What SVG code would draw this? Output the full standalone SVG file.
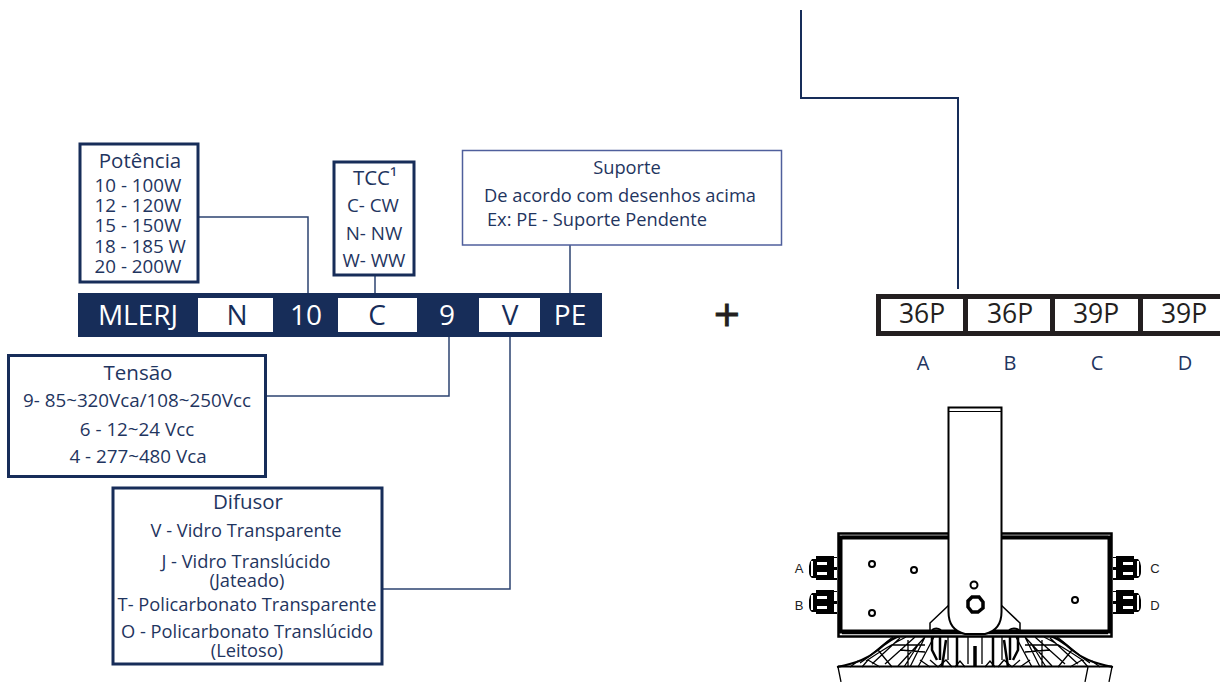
<svg xmlns="http://www.w3.org/2000/svg" width="1220" height="682" viewBox="0 0 1220 682">
<style>
text{font-family:"Open Sans","Noto Sans","Liberation Sans",sans-serif;text-anchor:middle;fill:#1f3560}
.box{fill:#fff;stroke:#172d59;stroke-width:3}
.bar{fill:#172d59}
.cell{fill:#fff}
.w{fill:#fff;font-size:28px}
.d{fill:#172d59;font-size:28px}
.t{font-size:20.500px}
.s{font-size:18.800px}
.n{font-size:18.300px}
.c{fill:none;stroke:#2c4370;stroke-width:1.5}
.k{fill:#231f20;font-size:26.500px}
.l{font-size:20px}
.m{fill:none;stroke:#000;stroke-width:1.3}
.m2{fill:#fff;stroke:#000;stroke-width:2}
.lb{font-family:"Liberation Sans",Arial,sans-serif;font-size:13px;fill:#222}
</style>
<g id="connectors">
<path class="c" d="M199 217H308V293"/>
<path class="c" d="M375 276V293"/>
<path class="c" d="M570 245V293"/>
<path class="c" d="M267 396H449V337"/>
<path class="c" d="M383 589H510V337"/>
<path d="M801 10V98H958V289" fill="none" stroke="#172d59" stroke-width="2"/>
</g>
<g id="code-bar">
<rect class="bar" x="78" y="293" width="524" height="44"/>
<rect class="cell" x="198" y="298" width="75" height="34"/>
<rect class="cell" x="338" y="298" width="79" height="34"/>
<rect class="cell" x="479" y="298" width="61" height="34"/>
<text class="w" x="138" y="325">MLERJ</text>
<text class="d" x="237" y="325">N</text>
<text class="w" x="306" y="325">10</text>
<text class="d" x="377" y="325">C</text>
<text class="w" x="447" y="325">9</text>
<text class="d" x="510" y="325">V</text>
<text class="w" x="570" y="325">PE</text>
</g>
<g id="potencia">
<rect class="box" x="80" y="144" width="118" height="138"/>
<text class="t" x="140" y="168">Potência</text>
<text class="s" x="138" y="192">10 - 100W</text>
<text class="s" x="138" y="212">12 - 120W</text>
<text class="s" x="138" y="232">15 - 150W</text>
<text class="s" x="140" y="253">18 - 185 W</text>
<text class="s" x="138" y="273">20 - 200W</text>
</g>
<g id="tcc">
<rect class="box" x="334" y="162" width="80" height="113"/>
<text class="t" x="375" y="185">TCC¹</text>
<text class="s" x="373" y="212">C- CW</text>
<text class="s" x="374" y="240">N- NW</text>
<text class="s" x="374" y="267">W- WW</text>
</g>
<g id="suporte">
<rect x="462.500" y="150.500" width="319" height="94.500" fill="#fff" stroke="#4f5f9c" stroke-width="1.500"/>
<text class="n" x="627" y="174">Suporte</text>
<text class="n" x="620" y="202">De acordo com desenhos acima</text>
<text class="n" x="597" y="226">Ex: PE - Suporte Pendente</text>
</g>
<g id="plus"><text x="727" y="331" font-size="46" stroke="#231f20" stroke-width="0.800" style="fill:#231f20">+</text></g>
<g id="tensao">
<rect class="box" x="8.500" y="355.500" width="257" height="121"/>
<text class="t" x="138" y="380">Tensão</text>
<text class="s" x="137" y="407">9- 85~320Vca/108~250Vcc</text>
<text class="s" x="137" y="436">6 - 12~24 Vcc</text>
<text class="s" x="138" y="463">4 - 277~480 Vca</text>
</g>
<g id="difusor">
<rect class="box" x="113" y="488" width="269" height="176"/>
<text class="t" x="248" y="509">Difusor</text>
<text class="n" x="246" y="537">V - Vidro Transparente</text>
<text class="n" x="246" y="568">J - Vidro Translúcido</text>
<text class="n" x="247" y="587">(Jateado)</text>
<text class="n" x="247" y="611">T- Policarbonato Transparente</text>
<text class="n" x="247" y="638">O - Policarbonato Translúcido</text>
<text class="n" x="247" y="657">(Leitoso)</text>
</g>
<g id="connector-config">
<rect x="878.500" y="296.500" width="345" height="37" fill="#fff" stroke="#231f20" stroke-width="5"/>
<path d="M965.500 296V334M1052.500 296V334M1140.500 296V334" stroke="#231f20" stroke-width="5" fill="none"/>
<text class="k" x="922" y="323">36P</text>
<text class="k" x="1010" y="323">36P</text>
<text class="k" x="1096" y="323">39P</text>
<text class="k" x="1184" y="323">39P</text>
<text class="l" x="923" y="370">A</text>
<text class="l" x="1010" y="370">B</text>
<text class="l" x="1097" y="370">C</text>
<text class="l" x="1185" y="370">D</text>
</g>
<g id="luminaire">
<defs>
<g id="fins">
<path d="M837 667C858 663 868 658 878 650C886 643 892 638 900 636" fill="none" stroke="#000" stroke-width="2"/>
<path class="m" d="M860 663C872 655 882 645 893 637M866 661C878 653 890 645 906 637M872 664L900 638M885 664L915 637M898 666L925 637M908 640V667M918 645L904 667M925 637L910 667M934 637L918 667M878 650L892 667M868 660L880 667M850 667L858 661M862 667L868 660M920 660L930 667M930 660L938 667M938 667L946 660L952 667M892 645H925M900 650L925 652M955 667L960 661L965 667"/>
<path d="M932 632V650L937 660M940 632V660M946 640L942 667M957 634V667" fill="none" stroke="#000" stroke-width="2.500"/>
<path d="M948 634V660M968 634V664" fill="none" stroke="#000" stroke-width="1.300"/>
</g>
<path id="gland" d="M834 556H816V559H812Q809 562 809 566V572Q809 576 812 578H816V580H834Z"/>
</defs>
<use href="#fins"/>
<use href="#fins" transform="translate(1950 0) scale(-1 1)"/>
<path d="M975 646V667" stroke="#000" stroke-width="3.500"/>
<path d="M838 666.500H1112" stroke="#000" stroke-width="2" fill="none"/>
<path d="M838 667L841 682M1088 667L1085 682M1112 667L1109 682" class="m"/>
<rect x="838.500" y="533.500" width="273" height="103" fill="#fff" stroke="#000" stroke-width="2.500"/>
<path d="M842 536.500H1108M842 633.500H1108" stroke="#000" stroke-width="1.500" fill="none"/>
<rect x="840.500" y="537.500" width="269" height="94" fill="#fff" stroke="#000" stroke-width="4"/>
<path d="M949 605 L930 623 V630 M1001 605 L1020 623 V630" fill="none" stroke="#000" stroke-width="1.500"/>
<path d="M948.500 407.500H1001.500V612Q1001.500 630 985 634H965Q948.500 630 948.500 612Z" fill="#fff" stroke="#000" stroke-width="2"/>
<path d="M949 411.500H1001" stroke="#000" stroke-width="1"/>
<path d="M932 630Q936 627 941 630M1009 630Q1014 627 1019 630" fill="none" stroke="#000" stroke-width="2"/>
<circle class="m2" cx="872" cy="564" r="3"/>
<circle class="m2" cx="914" cy="570" r="3" stroke-width="2.500"/>
<circle class="m2" cx="872" cy="613" r="3"/>
<circle class="m2" cx="974" cy="585" r="3.500"/>
<polygon points="972,597 979,597 983,602 983,608 978,612 972,612 968,607 968,601" fill="#fff" stroke="#000" stroke-width="3.500"/>
<circle class="m2" cx="1075" cy="600" r="3" stroke-width="2.500"/>
<g id="glands" fill="#000">
<use href="#gland"/>
<use href="#gland" y="34"/>
<g transform="translate(1950 0) scale(-1 1)"><use href="#gland"/><use href="#gland" y="34"/></g>
</g>
<g fill="#fff">
<rect x="811" y="561" width="2" height="15"/><rect x="811" y="595" width="2" height="15"/>
<rect x="1137" y="561" width="2" height="15"/><rect x="1137" y="595" width="2" height="15"/>
<rect x="817" y="562" width="10" height="3"/><rect x="817" y="572" width="10" height="3"/>
<rect x="817" y="596" width="10" height="3"/><rect x="817" y="606" width="10" height="3"/>
<rect x="1123" y="562" width="10" height="3"/><rect x="1123" y="572" width="10" height="3"/>
<rect x="1123" y="596" width="10" height="3"/><rect x="1123" y="606" width="10" height="3"/>
</g>
<g fill="#000">
<rect x="834" y="557" width="3" height="1"/><rect x="834" y="567" width="3" height="3"/><rect x="834" y="578" width="3" height="2"/>
<rect x="834" y="591" width="3" height="1"/><rect x="834" y="601" width="3" height="3"/><rect x="834" y="612" width="3" height="2"/>
<rect x="1113" y="557" width="3" height="1"/><rect x="1113" y="567" width="3" height="3"/><rect x="1113" y="578" width="3" height="2"/>
<rect x="1113" y="591" width="3" height="1"/><rect x="1113" y="601" width="3" height="3"/><rect x="1113" y="612" width="3" height="2"/>
</g>
<text class="lb" x="799" y="573">A</text>
<text class="lb" x="799" y="610">B</text>
<text class="lb" x="1155" y="573">C</text>
<text class="lb" x="1155" y="610">D</text>
</g>
</svg>
